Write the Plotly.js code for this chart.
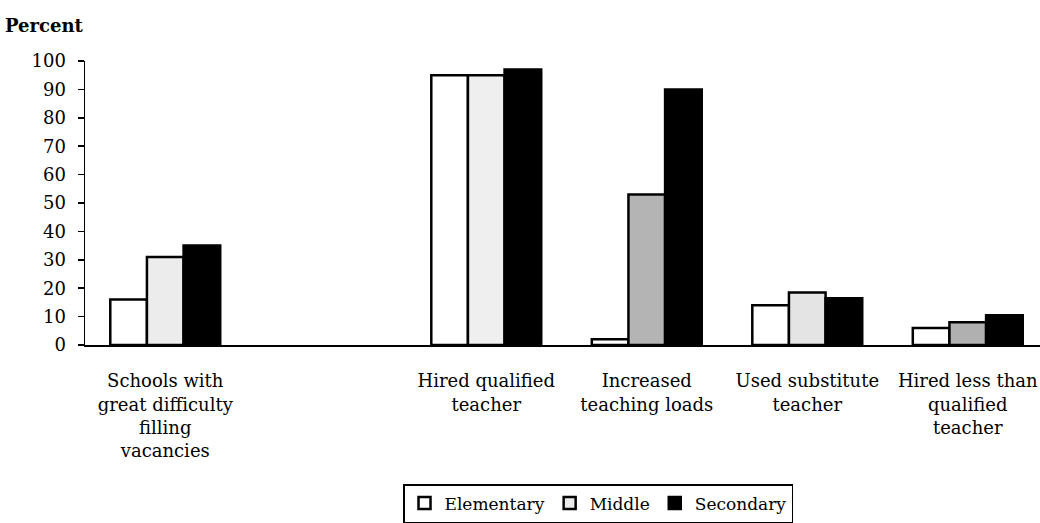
<!DOCTYPE html>
<html>
<head>
<meta charset="utf-8">
<script src="https://cdn.plot.ly/plotly-3.0.1.min.js"></script>
<style>html,body{margin:0;padding:0;background:#fff;}#chart{width:1040px;height:523px;}</style>
</head>
<body>
<div id="chart"></div>
<script>
const categories = ["c1", "c2", "c3", "c4", "c5", "c6"];
const tickLabels = [
  "Schools with<br>great difficulty<br>filling<br>vacancies",
  "",
  "Hired qualified<br>teacher",
  "Increased<br>teaching loads",
  "Used substitute<br>teacher",
  "Hired less than<br>qualified<br>teacher"
];
const seriesNames = ["Elementary", "Middle", "Secondary"];
const elementary = [16, null, 95, 2, 14, 6];
const middle = [31, null, 95, 53, 18.5, 8];
const secondary = [35, null, 97, 90, 16.5, 10.5];
const middleFills = ["#ececec", "#ececec", "#efefef", "#b4b4b4", "#e4e4e4", "#b0b0b0"];

const FONT = "DejaVu Serif";

const traces = [
  {type: "bar", name: seriesNames[0], x: categories, y: elementary,
   marker: {color: "#ffffff", line: {color: "#000", width: 2.5}}},
  {type: "bar", name: seriesNames[1], x: categories, y: middle,
   marker: {color: middleFills, line: {color: "#000", width: 2.5}}},
  {type: "bar", name: seriesNames[2], x: categories, y: secondary,
   marker: {color: "#000000", line: {color: "#000", width: 2.5}}}
];

const layout = {
  width: 1040, height: 523,
  margin: {l: 85, r: 0, t: 61, b: 178},
  paper_bgcolor: "#fff", plot_bgcolor: "#fff",
  font: {family: FONT, size: 18, color: "#000"},
  barmode: "group", bargap: 0.315, bargroupgap: 0,
  showlegend: true,
  legend: {
    orientation: "h", x: 0.333, y: -0.49, xanchor: "left", yanchor: "top",
    bordercolor: "#000", borderwidth: 1.5, bgcolor: "#fff",
    font: {family: FONT, size: 17, color: "#000"},
    itemwidth: 30, tracegroupgap: 0
  },
  xaxis: {
    type: "category", range: [-0.5, 5.45],
    tickmode: "array", tickvals: categories, ticktext: tickLabels,
    showline: true, linecolor: "#000", linewidth: 1.5,
    ticks: "", showgrid: false, zeroline: false,
    ticklabelstandoff: 19,
    tickfont: {family: FONT, size: 18, color: "#000"},
    fixedrange: true
  },
  yaxis: {
    range: [0, 100], tickmode: "linear", tick0: 0, dtick: 10,
    showline: true, linecolor: "#000", linewidth: 1.5,
    ticks: "outside", ticklen: 6, tickcolor: "#000", tickwidth: 1.5,
    ticklabelstandoff: 8,
    showgrid: false, zeroline: false,
    tickfont: {family: FONT, size: 18, color: "#000"},
    fixedrange: true
  },
  annotations: [{
    text: "<b>Percent</b>", xref: "paper", yref: "paper",
    x: -0.086, y: 1.125, xanchor: "left", yanchor: "middle",
    showarrow: false, font: {family: FONT, size: 18, color: "#000"}
  }]
};

Plotly.newPlot("chart", traces, layout, {displayModeBar: false, staticPlot: true});
</script>
</body>
</html>
